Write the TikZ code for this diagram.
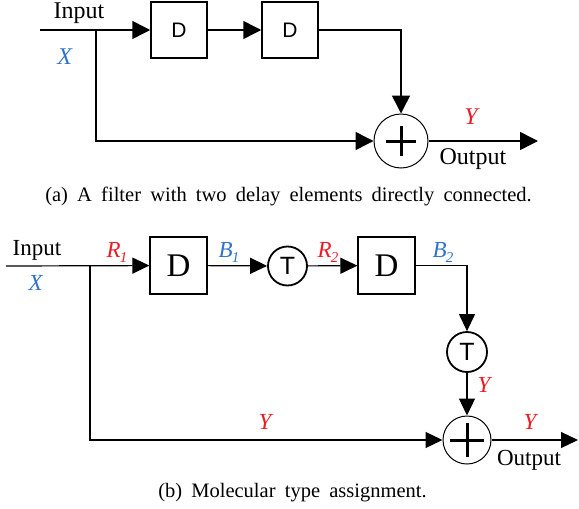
\documentclass[tikz,border=0pt]{standalone}
\usepackage{fontspec}
\setmainfont{Liberation Serif}
\newfontfamily\hvfont{Liberation Sans}
\usetikzlibrary{arrows.meta}
\definecolor{myred}{RGB}{237,28,36}
\definecolor{myblue}{RGB}{50,115,200}
\newcommand\sbs[2]{\textit{#1\kern-0.03em\raisebox{-0.22em}{\fontsize{15}{15}\selectfont #2}}}
\newcommand\capfnt{\fontsize{20.5}{20.5}\selectfont\spaceskip=0.45em plus 0.1em\relax}
\begin{document}
\begin{tikzpicture}[x=1pt,y=-1pt,
  lbl/.style={inner sep=0pt, font=\fontsize{24}{24}\selectfont},
  lbls/.style={inner sep=0pt, font=\fontsize{23}{23}\selectfont},
  captxt/.style={inner sep=0pt},
  dboxa/.style={draw, line width=1.5pt, minimum width=56pt, minimum height=56pt, inner sep=0pt, font=\hvfont\fontsize{21}{21}\selectfont},
  dboxb/.style={draw, line width=1.2pt, minimum width=57pt, minimum height=57pt, inner sep=0pt, font=\fontsize{33}{33}\selectfont},
  addera/.style={draw, circle, line width=1pt, minimum size=54pt, inner sep=0pt},
  adderb/.style={draw, circle, line width=1pt, minimum size=48pt, inner sep=0pt},
  tcirc/.style={draw, circle, line width=1.8pt, minimum size=39pt, inner sep=0pt, font=\hvfont\fontsize{25}{25}\selectfont},
  arra/.style={-{Triangle[length=18pt,width=18pt]}, line width=1.5pt},
  arrb/.style={-{Triangle[length=17pt,width=16pt]}, line width=1.2pt},
  plus/.style={line width=3pt}
]
\useasboundingbox (0,0) rectangle (579,509);

% ---------- panel (a)
\node[dboxa] (d1) at (179,30) {D};
\node[dboxa] (d2) at (290,30) {D};
\node[addera] (add1) at (401,141) {};
\coordinate (in1) at (40,30);
\coordinate (br1) at (96,30);
\coordinate (out1) at (538,141);
\draw[arra] (in1) -- (d1);
\draw[arra] (d1) -- (d2);
\draw[arra] (d2.east) -| (add1.north);
\draw[arra] (br1) |- (add1.west);
\draw[arra] (add1) -- (out1);
\draw[plus] (add1.center) ++(-15,0) -- ++(30,0);
\draw[plus] (add1.center) ++(0,-15) -- ++(0,30);

\node[lbl] (tin1) at (79,13) {Input};
\node[lbl, text=myblue] (tx1) at (65,57) {\textit{X}};
\node[lbl, text=myred] (ty1) at (472,117) {\textit{Y}};
\node[lbl] (tout1) at (473,159) {Output};
\node[captxt] (capa) at (288.5,196.5) {\capfnt (a) A filter with two delay elements directly connected.};

% ---------- panel (b)
\node[dboxb] (d3) at (178.5,265.5) {D};
\node[tcirc] (t1) at (287.5,266) {T};
\node[dboxb] (d4) at (386.5,265.5) {D};
\node[tcirc, minimum size=40pt] (t2) at (467,352) {T};
\node[adderb] (add2) at (467,440) {};
\coordinate (in2) at (6,266);
\coordinate (br2) at (90,266);
\coordinate (out2) at (578,440);
\draw[arrb] (in2) -- (d3);
\draw[arrb] (d3) -- (t1);
\draw[arrb] (t1) -- (d4);
\draw[arrb] (d4.east) -| (t2.north);
\draw[arrb] (t2) -- (add2);
\draw[arrb] (br2) |- (add2.west);
\draw[arrb] (add2) -- (out2);
\draw[plus] (add2.center) ++(-17,0) -- ++(34,0);
\draw[plus] (add2.center) ++(0,-17) -- ++(0,34);

\node[lbls] (tin2) at (37,250) {Input};
\node[lbls, text=myblue] (tx2) at (36,283) {\textit{X}};
\node[lbls, text=myred] (tr1) at (117,252) {\sbs{R}{1}};
\node[lbls, text=myblue] (tb1) at (229,252) {\sbs{B}{1}};
\node[lbls, text=myred] (tr2) at (328,252) {\sbs{R}{2}};
\node[lbls, text=myblue] (tb2) at (443,252) {\sbs{B}{2}};
\node[lbls, text=myred] (ty2) at (485,385) {\textit{Y}};
\node[lbls, text=myred] (ty3) at (266,422) {\textit{Y}};
\node[lbls, text=myred] (ty4) at (531,422) {\textit{Y}};
\node[lbls] (tout2) at (529,460) {Output};
\node[captxt] (capb) at (292.5,493) {\capfnt (b) Molecular type assignment.};
\end{tikzpicture}
\end{document}
